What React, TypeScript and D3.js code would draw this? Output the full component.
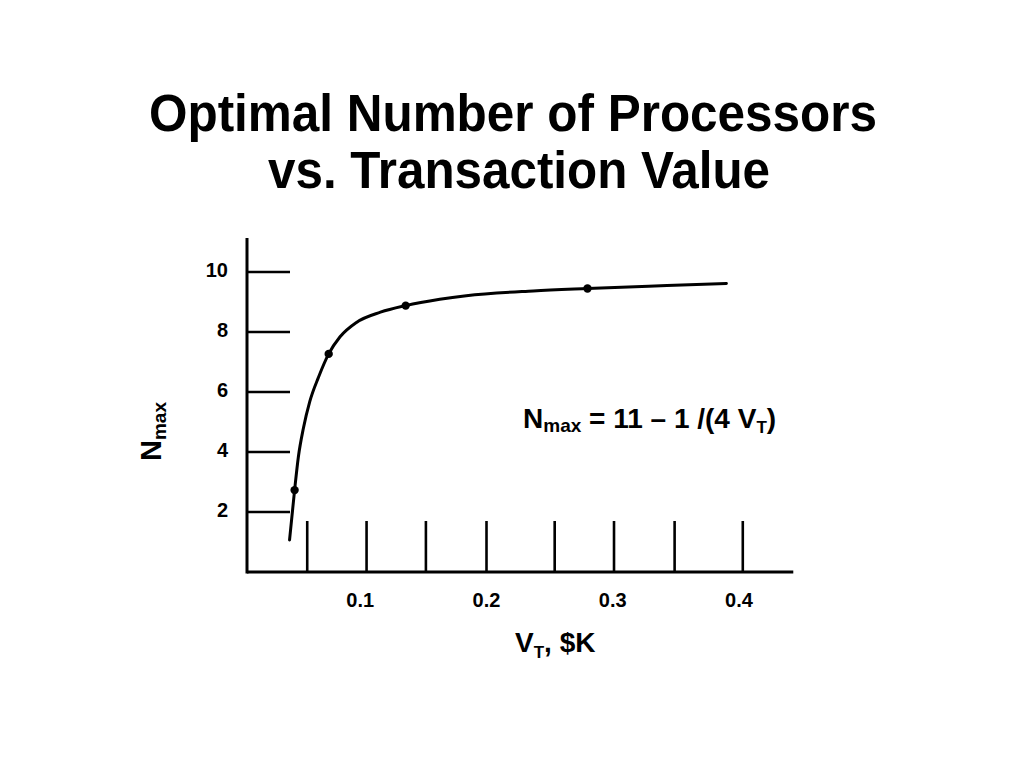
import React from "react";
import * as d3 from "d3";

// ---- data ----
const curveV = [0.044, 0.048, 0.051, 0.055, 0.060, 0.067, 0.075, 0.084, 0.097, 0.116, 0.136, 0.163, 0.184, 0.237, 0.280, 0.343, 0.390];
const curveN = [1.07, 2.73, 3.84, 4.80, 5.68, 6.50, 7.27, 7.84, 8.32, 8.66, 8.88, 9.09, 9.21, 9.37, 9.45, 9.55, 9.62];
const pointV = [0.048, 0.075, 0.136, 0.280];
const pointN = [2.73, 7.27, 8.88, 9.45];
const yTicks = [2, 4, 6, 8, 10];
const xTickMarks = [0.058, 0.105, 0.152, 0.2, 0.254, 0.301, 0.349, 0.403];
const xTickLabels = [0.1, 0.2, 0.3, 0.4];
const xAxisExtent = [0.0103, 0.443];
const yAxisTop = 11.13;

const FONT = "'Liberation Sans', Arial, Helvetica, sans-serif";

export default function App() {
  const x = d3.scaleLinear().domain([0, 0.4]).range([234, 739]);
  const y = d3.scaleLinear().domain([0, 10]).range([572, 272]);

  const pts: [number, number][] = curveV.map((v, i) => [v, curveN[i]]);
  const line = d3
    .line<[number, number]>()
    .x((d) => x(d[0]))
    .y((d) => y(d[1]))
    .curve(d3.curveMonotoneX);

  const x0 = x(xAxisExtent[0]);
  const x1 = x(xAxisExtent[1]);
  const y0 = y(0);
  const yTop = y(yAxisTop);

  return (
    <svg
      width={1024}
      height={768}
      style={{ position: "absolute", left: 0, top: 0, background: "#fff" }}
      fontFamily={FONT}
      fontWeight="bold"
    >
      <rect x={0} y={0} width={1024} height={768} fill="#fff" />
      {/* Title */}
      <text x={513} y={131} fontSize={51} textAnchor="middle" textLength={728} lengthAdjust="spacingAndGlyphs">
        Optimal Number of Processors
      </text>
      <text x={519} y={188} fontSize={51} textAnchor="middle" textLength={502} lengthAdjust="spacingAndGlyphs">
        vs. Transaction Value
      </text>

      {/* Axes */}
      <line x1={x0} y1={yTop} x2={x0} y2={y0 + 1.5} stroke="#000" strokeWidth={3} />
      <line x1={x0} y1={y0} x2={x1} y2={y0} stroke="#000" strokeWidth={3} />

      {/* Y ticks */}
      {yTicks.map((t) => (
        <g key={"yt" + t}>
          <line x1={x0} y1={y(t)} x2={x0 + 43} y2={y(t)} stroke="#000" strokeWidth={2.6} />
          <text x={228} y={y(t) - 2.5} fontSize={20} textAnchor="end" dominantBaseline="central">
            {t}
          </text>
        </g>
      ))}

      {/* X ticks */}
      {xTickMarks.map((t, i) => (
        <line key={"xt" + i} x1={x(t)} y1={y0 - 51} x2={x(t)} y2={y0} stroke="#000" strokeWidth={2.6} />
      ))}
      {xTickLabels.map((t) => (
        <text key={"xl" + t} x={x(t)} y={607} fontSize={20} textAnchor="middle">
          {t.toFixed(1)}
        </text>
      ))}

      {/* Axis titles */}
      <text x={515} y={652} fontSize={28}>
        V<tspan fontSize={17} dy={6}>T</tspan>
        <tspan dy={-6}>, $K</tspan>
      </text>
      <text transform="translate(161,461) rotate(-90)" fontSize={29}>
        N<tspan fontSize={19} dy={5}>max</tspan>
      </text>

      {/* Formula */}
      <text x={523} y={428} fontSize={28}>
        N<tspan fontSize={19} dy={4}>max</tspan>
        <tspan dy={-4}> = 11 – 1 /(4 V</tspan>
        <tspan fontSize={17} dy={5}>T</tspan>
        <tspan dy={-5}>)</tspan>
      </text>

      {/* Curve */}
      <path d={line(pts) || ""} fill="none" stroke="#000" strokeWidth={3} strokeLinecap="round" />
      {pointV.map((v, i) => (
        <circle key={"p" + i} cx={x(v)} cy={y(pointN[i])} r={4.2} fill="#000" />
      ))}
    </svg>
  );
}
